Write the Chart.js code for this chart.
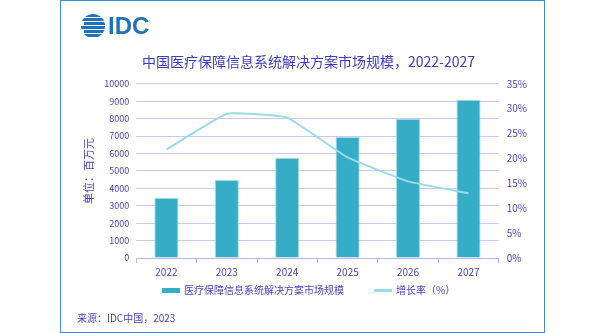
<!DOCTYPE html>
<html>
<head>
<meta charset="utf-8">
<script src="https://cdn.jsdelivr.net/npm/chart.js@4/dist/chart.umd.min.js"></script>
<style>
  body { margin: 0; background: #fff; }
  #wrap { position: relative; width: 600px; height: 333px; }
  #box { position: absolute; left: 60px; top: 0; width: 483px; height: 331px; border: 1px solid #3b8fd2; }
  #logo { position: absolute; left: 81px; top: 13px; }
  #src { position: absolute; left: 77px; top: 310px; font: 10px "Noto Sans CJK SC", sans-serif; color: #4b3fc4; }
  .lg { position: absolute; top: 283px; font: 10px "Noto Sans CJK SC", sans-serif; color: #4b3fc4; white-space: nowrap; line-height: 14px; }
  .lg i { display: inline-block; width: 18px; vertical-align: middle; margin-right: 4px; position: relative; top: -1px; }
  canvas { position: absolute; left: 0; top: 0; }
</style>
</head>
<body>
<div id="wrap">
  <div id="box"></div>
  <canvas id="logo" width="80" height="26"></canvas>
  <canvas id="chart" width="600" height="333"></canvas>
  <div id="legend"></div>
  <div id="src">来源：IDC中国，2023</div>
</div>
<script>
const years = ['2022', '2023', '2024', '2025', '2026', '2027'];
const marketSize = [3460, 4480, 5760, 6950, 8000, 9080];
const growthRate = [21.8, 29.0, 28.2, 20.2, 15.4, 13.0];

const textColor = '#4b3fc4';
const font = "'Noto Sans CJK SC', sans-serif";

// IDC logo: striped globe plus letters
const lg = document.getElementById('logo').getContext('2d');
lg.fillStyle = '#1f73bd';
lg.save();
lg.beginPath();
lg.arc(12, 13, 12, 0, Math.PI * 2);
lg.clip();
[1, 5, 9, 13, 17, 21].forEach(function (y, i) {
  lg.fillRect(i % 2 ? 0 : 3, y, 24, 3);
});
lg.restore();
lg.font = "bold 24px 'Liberation Sans', sans-serif";
lg.textBaseline = 'middle';
lg.fillText('IDC', 27, 14);

const chart = new Chart(document.getElementById('chart'), {
  data: {
    labels: years,
    datasets: [
      {
        type: 'line',
        label: '增长率（%）',
        data: growthRate,
        yAxisID: 'y1',
        borderColor: '#9cdae6',
        backgroundColor: '#9cdae6',
        borderWidth: 2,
        pointRadius: 0,
        tension: 0.1,
        order: 0
      },
      {
        type: 'bar',
        label: '医疗保障信息系统解决方案市场规模',
        data: marketSize,
        yAxisID: 'y',
        backgroundColor: '#35adc6',
        borderColor: '#a9dfe9',
        borderWidth: 1,
        barPercentage: 0.8,
        categoryPercentage: 0.5,
        order: 1
      }
    ]
  },
  options: {
    responsive: false,
    animation: false,
    layout: { padding: { left: 82, right: 65, top: 53, bottom: 52 } },
    plugins: {
      title: {
        display: true,
        text: '中国医疗保障信息系统解决方案市场规模，2022-2027',
        color: '#3b3bc4',
        font: { family: font, size: 14, weight: 'normal' },
        padding: { top: 0, bottom: 14 }
      },
      legend: { display: false },
      tooltip: { enabled: false }
    },
    scales: {
      x: {
        offset: true,
        grid: { display: true, drawOnChartArea: false, tickLength: 5, color: '#b9b6ec', offset: true },
        border: { color: '#b9b6ec' },
        ticks: { color: textColor, font: { family: font, size: 10 } }
      },
      y: {
        position: 'left',
        min: 0,
        max: 10000,
        ticks: {
          stepSize: 1000,
          autoSkip: false,
          color: textColor,
          font: { family: font, size: 9 },
          padding: 7,
          callback: function (v) { return String(v); }
        },
        grid: { color: '#cbc8f4', drawTicks: false },
        border: { display: false },
        title: {
          display: true,
          text: '单位：百万元',
          color: textColor,
          font: { family: font, size: 11 },
          padding: { top: 0, bottom: 2 }
        }
      },
      y1: {
        position: 'right',
        min: 0,
        max: 35,
        ticks: {
          stepSize: 5,
          autoSkip: false,
          color: textColor,
          font: { family: font, size: 10 },
          padding: 8,
          callback: function (v) { return v + '%'; }
        },
        grid: { display: false, drawTicks: false },
        border: { display: false }
      }
    }
  }
});

// legend drawn from the datasets, spaced as in the original
const legendPos = [162, 374];
const legendHeights = [5, 3];
const order = [1, 0];
order.forEach(function (di, k) {
  const ds = chart.data.datasets[di];
  const el = document.createElement('div');
  el.className = 'lg';
  el.style.left = legendPos[k] + 'px';
  el.innerHTML = '<i style="height:' + legendHeights[k] + 'px;background:' + ds.backgroundColor + '"></i>';
  el.appendChild(document.createTextNode(ds.label));
  document.getElementById('legend').appendChild(el);
});
</script>
</body>
</html>
